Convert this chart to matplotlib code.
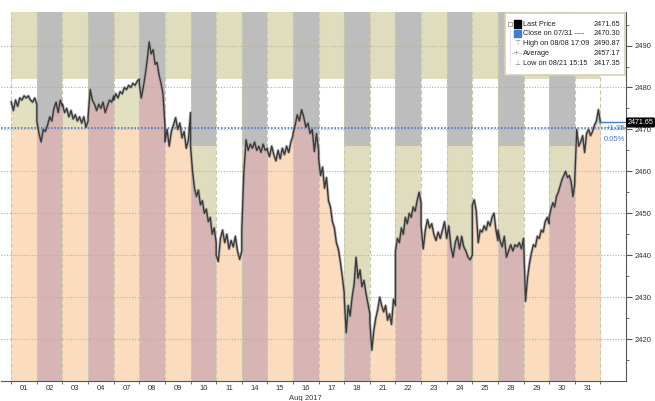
import numpy as np
import matplotlib.pyplot as plt
from matplotlib.patches import Rectangle

# trading days of Aug 2017 and intraday prices
day_labels = ['01', '02', '03', '04', '07', '08', '09', '10', '11', '14', '15', '16',
              '17', '18', '21', '22', '23', '24', '25', '28', '29', '30', '31']
day_prices = [
    [2476.5, 2474.5, 2477, 2475.5, 2477.5, 2477, 2478, 2477.5, 2478, 2477, 2476.5, 2477.5, 2476],
    [2472, 2469, 2467, 2470, 2469.5, 2471, 2473, 2472, 2475, 2476.5, 2474, 2477, 2475.5],
    [2476, 2474, 2475, 2473, 2474.5, 2472.5, 2473.5, 2472, 2473, 2471.5, 2473, 2470.5, 2472],
    [2473, 2479.5, 2477, 2476, 2474.5, 2476, 2475, 2476.5, 2474, 2475.5, 2477, 2476.5, 2478],
    [2477, 2478.5, 2477.5, 2479, 2478.5, 2480, 2479.5, 2480.5, 2480, 2481, 2480.5, 2481.5, 2482],
    [2481, 2477.5, 2480, 2483, 2486.5, 2490.87, 2488, 2489, 2485.5, 2486, 2483, 2481, 2478.5, 2471],
    [2467, 2470, 2466, 2469.5, 2471, 2472.8, 2470, 2471.5, 2468, 2469.5, 2465.5, 2467.5, 2474],
    [2466, 2460, 2456, 2454, 2455.5, 2452, 2453, 2450, 2451, 2448, 2449, 2445, 2446.5, 2443],
    [2440, 2438.5, 2444, 2446, 2443, 2445, 2441.5, 2443.5, 2442, 2444.5, 2441, 2439, 2441],
    [2446, 2460, 2467.5, 2465, 2466.5, 2465.5, 2467, 2465, 2466, 2464.5, 2466.5, 2465, 2465.5],
    [2465, 2463.5, 2466, 2464, 2462.5, 2465, 2463, 2465.5, 2464, 2466, 2464.5, 2467, 2468.5],
    [2469, 2471, 2473.5, 2472, 2474.7, 2473, 2470.5, 2471.5, 2469, 2470, 2464.7, 2469, 2465],
    [2463, 2459, 2461, 2456, 2458.5, 2453, 2451.5, 2448, 2446.5, 2443, 2441.5, 2438.5, 2435, 2431],
    [2430, 2421.5, 2428, 2425.5, 2430, 2433, 2439.5, 2434.5, 2436.5, 2432.5, 2434, 2431, 2428.5, 2426],
    [2424, 2417.35, 2422, 2425, 2427, 2430, 2428, 2426.5, 2428, 2424.5, 2426, 2423.5, 2429.5, 2428],
    [2441, 2444, 2443, 2446.5, 2445, 2449, 2447.5, 2450, 2449, 2451.5, 2450.5, 2453, 2455, 2452.5],
    [2447, 2441.5, 2446, 2448.5, 2446.5, 2447.5, 2445, 2443.5, 2445.5, 2444, 2446, 2448, 2444],
    [2444, 2447, 2442, 2439.5, 2443, 2444.5, 2441.5, 2444.5, 2442, 2441, 2439.5, 2438.9, 2440],
    [2452, 2453.2, 2450.5, 2443, 2446, 2445.5, 2447, 2446, 2448, 2447, 2449, 2450, 2446, 2443.5],
    [2446, 2443.5, 2442, 2444.5, 2439.5, 2441, 2442.5, 2441, 2442.5, 2442, 2443, 2441.5, 2444],
    [2444, 2429, 2434.5, 2438, 2440.5, 2442.5, 2442, 2444.5, 2444, 2446, 2445.5, 2448, 2449, 2447.5],
    [2449, 2451, 2452.5, 2451.5, 2454, 2455, 2456.5, 2458, 2459, 2460, 2458.5, 2459, 2457.5, 2454, 2457],
    [2458, 2470, 2466, 2467, 2468.5, 2464.5, 2469, 2470, 2468.5, 2469.5, 2471, 2472, 2474.7, 2471.65],
]

close_prev = 2470.30
last_price = 2471.65
change_labels = ['+1.35', '0.05%']
legend_labels = ['Last Price', 'Close on 07/31 ----', 'High on 08/08 17:09', 'Average', 'Low on 08/21 15:15']
legend_values = ['2471.65', '2470.30', '2490.87', '2457.17', '2417.35']
yticks = np.arange(2420, 2491, 10)

# band levels of the session shading
band_hi = 2482
band_lo = 2466
ymin, ymax = 2410, 2498

peach = '#fcdcbe'
mauve = '#d7b5b5'
olive = '#dfddbe'
gray = '#bdbdbd'
pale = '#e3e0c2'
blue = '#3d7fd6'
txt = '#333333'

W, H = 655, 401
fig = plt.figure(figsize=(W / 100, H / 100), dpi=100)
ax = fig.add_axes([1 / W, 20 / H, 625 / W, 369 / H])
ax.set_xlim(-0.4, 24)
ax.set_ylim(ymin, ymax)

x_all, p_all = [], []
for i, p in enumerate(day_prices):
    p = np.array(p)
    xs = np.linspace(i, i + 1, len(p))
    if i % 2 == 0:
        ax.fill_between([i, i + 1], band_hi, ymax, color=olive, lw=0)
        ax.fill_between(xs, ymin, np.minimum(p, close_prev), color=peach, lw=0)
        ax.fill_between(xs, close_prev, p, where=p > close_prev, interpolate=True, color=pale, lw=0)
    else:
        ax.fill_between([i, i + 1], band_lo, ymax, color=gray, lw=0)
        ax.fill_between([i, i + 1], ymin, band_lo, color=olive, lw=0)
        ax.fill_between(xs, ymin, p, color=mauve, lw=0)
    x_all.extend(xs)
    p_all.extend(p)

for i in range(len(day_labels) + 1):
    ax.axvline(i, color='#cbc9ad', ls=(0, (4, 2)), lw=0.8)
for y in yticks:
    ax.axhline(y, color='#b5b394', ls=(0, (1, 1.5)), lw=0.8)

ax.axhline(close_prev, color=blue, ls=(0, (1, 1)), lw=1.2)
ax.plot(x_all, p_all, color='#999999', lw=2.2, alpha=0.6)
ax.plot(x_all, p_all, color='#3a3a3a', lw=1.0)

n = len(day_labels)
ax.plot([n, 24], [last_price, last_price], color=blue, lw=1.0)
ax.text(23.95, close_prev, change_labels[0], ha='right', va='center', color=blue,
        fontsize=5.5, family='Liberation Sans')
ax.text(23.95, close_prev - 2.8, change_labels[1], ha='right', va='center', color=blue,
        fontsize=5.5, family='Liberation Sans')

# axes styling
for s in ['top', 'left']:
    ax.spines[s].set_visible(False)
for s in ['right', 'bottom']:
    ax.spines[s].set_color('#555555')
    ax.spines[s].set_linewidth(0.8)
ax.yaxis.tick_right()
ax.set_yticks(yticks)
ax.set_yticks(np.arange(2415, 2496, 10), minor=True)
ax.tick_params(axis='y', which='major', length=4, width=0.8, colors='#555555',
               labelsize=5.5, labelcolor=txt, pad=2)
ax.tick_params(axis='y', which='minor', length=2, width=0.6, colors='#555555')
ax.set_xticks(np.arange(n) + 0.5)
ax.set_xticklabels(day_labels)
ax.set_xticks(np.arange(n + 1), minor=True)
ax.tick_params(axis='x', which='major', length=0, labelsize=5.5, labelcolor=txt, pad=3)
ax.tick_params(axis='x', which='minor', length=2, width=0.6, colors='#555555')
for lab in ax.get_xticklabels() + ax.get_yticklabels():
    lab.set_family('Liberation Sans')
ax.text(11.5, -0.038, 'Aug 2017', transform=ax.get_xaxis_transform(), ha='center', va='top',
        fontsize=5.5, color=txt, family='Liberation Sans')

ax.text(24.06, last_price, legend_values[0], ha='left', va='center', color='white', fontsize=5.1,
        family='Liberation Sans', clip_on=False,
        bbox=dict(boxstyle='round,pad=0.12', fc='black', ec='black'))


# legend box drawn in pixel positions
def px(x, y):
    return x / W, 1 - y / H


lx0, ly0, lx1, ly1 = 505, 13, 625, 75
fig.add_artist(Rectangle(px(lx0, ly1), (lx1 - lx0) / W, (ly1 - ly0) / H, transform=fig.transFigure,
                         fc='white', ec='#d3d1b2', lw=1.2, zorder=5))
rows = [24, 33.7, 43.3, 53.3, 63.3]
fig.add_artist(plt.Line2D([px(510, 0)[0]] * 2, [px(0, 26)[1], px(0, 64)[1]], transform=fig.transFigure,
                          color='#aaaaaa', lw=0.6, ls=':', zorder=6))
fig.add_artist(Rectangle(px(508, 26), 4 / W, 4 / H, transform=fig.transFigure,
                         fc='white', ec='#888888', lw=0.5, zorder=6))
icons = ['black', blue, None, None, None]
marks = ['', '', '\u22a4', '-+-', '\u22a5']
for r, lab, val, ic, mk in zip(rows, legend_labels, legend_values, icons, marks):
    if ic is not None:
        fig.add_artist(Rectangle(px(514, r + 3.5), 7 / W, 7 / H, transform=fig.transFigure,
                                 fc=ic, ec=ic, zorder=6))
    else:
        fig.text(*px(517.5, r), mk, ha='center', va='center', fontsize=5, color='#888888', zorder=6)
    fig.text(*px(523, r), lab, ha='left', va='center', fontsize=5.3, color='#222222',
             family='Liberation Sans', zorder=6)
    fig.text(*px(620, r), val, ha='right', va='center', fontsize=5.3, color='#222222',
             family='Liberation Sans', zorder=6)

fig.savefig('out.png', dpi=100)
